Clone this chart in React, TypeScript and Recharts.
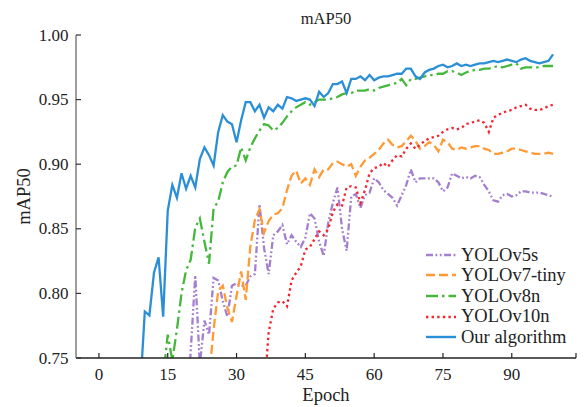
import React from 'react';
import { LineChart, Line, XAxis, YAxis, Legend } from 'recharts';

const FONT = "'Liberation Serif', 'Times New Roman', serif";

const EPOCHS = [
  0, 1, 2, 3, 4, 5, 6, 7, 8, 9, 10, 11, 12, 13, 14, 15, 16, 17, 18, 19,
  20, 21, 22, 23, 24, 25, 26, 27, 28, 29, 30, 31, 32, 33, 34, 35, 36, 37, 38, 39,
  40, 41, 42, 43, 44, 45, 46, 47, 48, 49, 50, 51, 52, 53, 54, 55, 56, 57, 58, 59,
  60, 61, 62, 63, 64, 65, 66, 67, 68, 69, 70, 71, 72, 73, 74, 75, 76, 77, 78, 79,
  80, 81, 82, 83, 84, 85, 86, 87, 88, 89, 90, 91, 92, 93, 94, 95, 96, 97, 98, 99,
];

const YOLOV5S = [
  0.04, 0.09, 0.15, 0.21, 0.27, 0.33, 0.39, 0.44, 0.49, 0.53, 0.57, 0.6, 0.62, 0.64, 0.66, 0.67, 0.68, 0.69, 0.695, 0.7,
  0.755, 0.814, 0.745, 0.779, 0.768, 0.812, 0.81, 0.794, 0.782, 0.806, 0.808, 0.806, 0.806, 0.813, 0.815, 0.869, 0.835, 0.815, 0.845, 0.848,
  0.853, 0.838, 0.845, 0.84, 0.836, 0.843, 0.862, 0.858, 0.84, 0.829, 0.855, 0.87, 0.882, 0.85, 0.833, 0.875, 0.877, 0.866, 0.876, 0.878,
  0.889, 0.886, 0.88, 0.877, 0.874, 0.868, 0.876, 0.884, 0.896, 0.886, 0.889, 0.889, 0.889, 0.889, 0.886, 0.879, 0.882, 0.893, 0.891, 0.889,
  0.89, 0.889, 0.891, 0.89, 0.884, 0.879, 0.872, 0.871, 0.876, 0.877, 0.875, 0.876, 0.879, 0.879, 0.878, 0.878, 0.878, 0.877, 0.876, 0.875,
];

const YOLOV7_TINY = [
  0.05, 0.1, 0.16, 0.22, 0.28, 0.34, 0.4, 0.45, 0.5, 0.54, 0.58, 0.6, 0.62, 0.64, 0.66, 0.67, 0.68, 0.69, 0.7, 0.705,
  0.71, 0.715, 0.72, 0.728, 0.735, 0.772, 0.802, 0.806, 0.789, 0.778, 0.798, 0.817, 0.795, 0.836, 0.857, 0.865, 0.847, 0.856, 0.861, 0.862,
  0.866, 0.88, 0.891, 0.895, 0.885, 0.889, 0.884, 0.896, 0.89, 0.896, 0.896, 0.901, 0.902, 0.9, 0.898, 0.9, 0.891, 0.898, 0.903, 0.905,
  0.908, 0.911, 0.916, 0.919, 0.915, 0.913, 0.914, 0.918, 0.922, 0.918, 0.912, 0.914, 0.917, 0.915, 0.91, 0.919, 0.917, 0.912, 0.911, 0.913,
  0.912, 0.913, 0.914, 0.914, 0.912, 0.911, 0.908, 0.908, 0.909, 0.91, 0.912, 0.912, 0.911, 0.91, 0.909, 0.908, 0.908, 0.908, 0.909, 0.908,
];

const YOLOV8N = [
  0.05, 0.12, 0.2, 0.28, 0.36, 0.43, 0.5, 0.55, 0.6, 0.64, 0.67, 0.69, 0.71, 0.725, 0.735, 0.768, 0.748, 0.772, 0.8, 0.818,
  0.826, 0.851, 0.858, 0.84, 0.823, 0.866, 0.871, 0.886, 0.894, 0.898, 0.899, 0.913, 0.903, 0.913, 0.92, 0.926, 0.931, 0.93, 0.926, 0.928,
  0.932, 0.937, 0.941, 0.944, 0.946, 0.948, 0.946, 0.948, 0.95, 0.95, 0.95, 0.951, 0.952, 0.954, 0.955, 0.955, 0.957, 0.957, 0.957, 0.958,
  0.957, 0.959, 0.96, 0.961, 0.962, 0.963, 0.966, 0.961, 0.966, 0.966, 0.967, 0.968, 0.969, 0.969, 0.97, 0.97, 0.972, 0.972, 0.971, 0.969,
  0.971, 0.972, 0.973, 0.973, 0.974, 0.974, 0.975, 0.976, 0.975, 0.976, 0.977, 0.978, 0.974, 0.975, 0.975, 0.975, 0.975, 0.976, 0.976, 0.976,
];

const YOLOV10N = [
  0.0, 0.02, 0.05, 0.08, 0.12, 0.16, 0.2, 0.24, 0.28, 0.32, 0.36, 0.39, 0.42, 0.45, 0.48, 0.51, 0.53, 0.55, 0.57, 0.59,
  0.61, 0.62, 0.63, 0.64, 0.65, 0.66, 0.67, 0.68, 0.69, 0.695, 0.7, 0.705, 0.71, 0.712, 0.715, 0.718, 0.722, 0.77, 0.788, 0.793,
  0.794, 0.79, 0.81, 0.816, 0.821, 0.834, 0.836, 0.842, 0.848, 0.845, 0.85, 0.863, 0.869, 0.868, 0.882, 0.883, 0.882, 0.87, 0.88, 0.893,
  0.897, 0.898, 0.901, 0.898, 0.903, 0.907, 0.906, 0.912, 0.916, 0.912, 0.915, 0.918, 0.92, 0.921, 0.922, 0.925, 0.927, 0.928, 0.927, 0.928,
  0.931, 0.932, 0.933, 0.934, 0.932, 0.925, 0.936, 0.938, 0.94, 0.941, 0.942, 0.944, 0.945, 0.946, 0.943, 0.942, 0.942, 0.943, 0.945, 0.946,
];

const OURS = [
  0.12, 0.25, 0.36, 0.45, 0.52, 0.58, 0.63, 0.67, 0.7, 0.726, 0.786, 0.783, 0.816, 0.828, 0.782, 0.864, 0.884, 0.874, 0.893, 0.881,
  0.891, 0.882, 0.904, 0.913, 0.907, 0.899, 0.925, 0.938, 0.933, 0.931, 0.917, 0.934, 0.948, 0.948, 0.941, 0.946, 0.936, 0.944, 0.941, 0.946,
  0.943, 0.952, 0.951, 0.949, 0.95, 0.951, 0.95, 0.945, 0.956, 0.952, 0.955, 0.962, 0.962, 0.964, 0.955, 0.966, 0.966, 0.968, 0.965, 0.969,
  0.965, 0.967, 0.968, 0.968, 0.969, 0.97, 0.97, 0.974, 0.974, 0.968, 0.966, 0.971, 0.973, 0.974, 0.976, 0.977, 0.975, 0.976, 0.978, 0.976,
  0.977, 0.976, 0.977, 0.978, 0.978, 0.979, 0.98, 0.979, 0.98, 0.981, 0.98, 0.979, 0.981, 0.982, 0.98, 0.979, 0.978, 0.979, 0.98, 0.985,
];

const X_TICKS = [0, 15, 30, 45, 60, 75, 90, 104];
const X_LABELED = [0, 15, 30, 45, 60, 75, 90];
const Y_TICKS = [0.75, 0.8, 0.85, 0.9, 0.95, 1.0];

const SERIES = [
  { key: 'v5', name: 'YOLOv5s', values: YOLOV5S, color: '#a47fd0', dash: '7 2.5 1.8 2.5 1.8 2.5' },
  { key: 'v7', name: 'YOLOv7-tiny', values: YOLOV7_TINY, color: '#ff9a35', dash: '9 4' },
  { key: 'v8', name: 'YOLOv8n', values: YOLOV8N, color: '#45b83c', dash: '12 4 2.5 4' },
  { key: 'v10', name: 'YOLOv10n', values: YOLOV10N, color: '#f2262e', dash: '2.4 3.2' },
  { key: 'ours', name: 'Our algorithm', values: OURS, color: '#2b8fd7', dash: undefined as string | undefined },
];

const data = EPOCHS.map((epoch, i) => {
  const row: Record<string, number> = { epoch };
  SERIES.forEach((s) => {
    row[s.key] = s.values[i];
  });
  return row;
});

const XTick = (props: any) => {
  const { x, y, payload } = props;
  return (
    <g>
      <line x1={x} x2={x} y1={y} y2={y - 5} stroke="#222" strokeWidth={1.2} />
      {X_LABELED.includes(payload.value) && (
        <text x={x} y={y + 21.5} textAnchor="middle" fontSize={17} fontFamily={FONT} fill="#222">
          {payload.value}
        </text>
      )}
    </g>
  );
};

const YTick = (props: any) => {
  const { x, y, payload } = props;
  return (
    <g>
      <line x1={x} x2={x + 5} y1={y} y2={y} stroke="#333" strokeWidth={1.2} />
      <text x={x - 7.5} y={y} dy="0.33em" textAnchor="end" fontSize={17} fontFamily={FONT} fill="#222">
        {Number(payload.value).toFixed(2)}
      </text>
    </g>
  );
};

const renderLegend = () => (
  <div style={{ fontFamily: FONT, fontSize: 18.5, color: '#222' }}>
    {SERIES.map((s) => (
      <div key={s.key} style={{ display: 'flex', alignItems: 'center', height: 20.6 }}>
        <svg width={36} height={10} style={{ display: 'block' }}>
          <line x1={2} x2={32} y1={5} y2={5} stroke={s.color} strokeWidth={2.4} strokeDasharray={s.dash} />
        </svg>
        <span style={{ marginLeft: 1, lineHeight: '20.6px', whiteSpace: 'nowrap' }}>{s.name}</span>
      </div>
    ))}
  </div>
);

export default function App() {
  return (
    <div style={{ position: 'absolute', left: 0, top: 0, width: 588, height: 407, background: '#fff' }}>
      <LineChart width={588} height={407} data={data} margin={{ top: 35, right: 12, bottom: 5, left: 0 }}>
        <text x={326} y={23.5} textAnchor="middle" fontSize={16.5} fontFamily={FONT} fill="#222">
          mAP50
        </text>
        <XAxis
          dataKey="epoch"
          type="number"
          domain={[-5, 104]}
          ticks={X_TICKS}
          interval={0}
          height={44}
          tickSize={0}
          tickMargin={0}
          tickLine={false}
          tick={<XTick />}
          axisLine={{ stroke: '#222', strokeWidth: 1.3 }}
          label={{ value: 'Epoch', position: 'insideBottom', offset: 1, fontSize: 18.5, fontFamily: FONT, fill: '#222' }}
        />
        <YAxis
          type="number"
          domain={[0.75, 1.0]}
          ticks={Y_TICKS}
          interval={0}
          allowDataOverflow
          width={76}
          tickSize={0}
          tickMargin={0}
          tickLine={false}
          tick={<YTick />}
          axisLine={{ stroke: '#7f7f7f', strokeWidth: 1.5 }}
          label={{ value: 'mAP50', angle: -90, position: 'center', dx: -15, fontSize: 18.5, fontFamily: FONT, fill: '#222' }}
        />
        <Legend
          layout="vertical"
          align="center"
          verticalAlign="middle"
          content={renderLegend}
          wrapperStyle={{ left: 424, top: 244.5, width: 'auto' }}
        />
        {SERIES.map((s) => (
          <Line
            key={s.key}
            type="linear"
            dataKey={s.key}
            name={s.name}
            stroke={s.color}
            strokeWidth={2.3}
            strokeDasharray={s.dash}
            dot={false}
            activeDot={false}
            isAnimationActive={false}
          />
        ))}
      </LineChart>
    </div>
  );
}
